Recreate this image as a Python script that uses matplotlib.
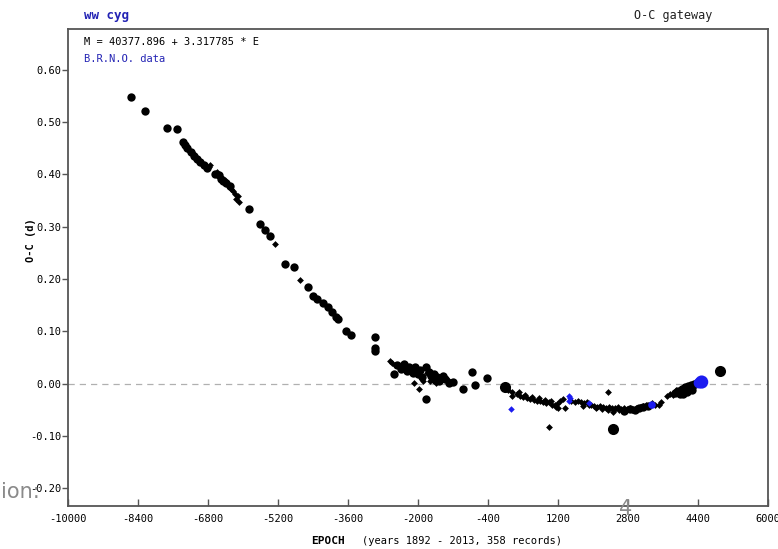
import matplotlib.pyplot as plt

# Colors
BLUE_TEXT = '#2323b4'
BLUE_MARK = '#1c1cf0'
SPINE = '#555555'
MONO = 'DejaVu Sans Mono'

# --- data (epoch, O-C in days) ---
big_x = [-8550, -8230, -7740, -7510,
         -7380, -7330, -7270, -7200, -7130, -7060, -6990, -6900, -6820,
         -6630, -6560, -6500, -6450, -6380, -6300,
         -5875, -5606, -5490, -5375, -5030, -4830,
         -4525, -4410, -4300, -4180, -4070, -3960, -3870, -3840,
         -3645, -3530, -2980, -2980, -2980,
         -2560, -2480, -2330, -2200, -2060, -1960, -1830, -1760, -1700,
         -1640, -1560, -1440, -1380, -1210, -1900, -2000, -1620, -1820,
         -2400, -2260, -2120, -1520, -1300,
         -985, -760, -705, -435,
         2700, 2850, 2950, 3050, 3150, 3250,
         3870, 3950, 4020, 4090, 4160, 4230, 4300, 4370, 4440, 3980, 4080, 4200,
         4050, 4140, 4260]
big_y = [0.548, 0.522, 0.489, 0.486,
         0.462, 0.456, 0.450, 0.443, 0.436, 0.430, 0.424, 0.417, 0.412,
         0.400, 0.398, 0.392, 0.388, 0.383, 0.378,
         0.334, 0.305, 0.293, 0.283, 0.229, 0.222,
         0.184, 0.168, 0.162, 0.155, 0.146, 0.137, 0.128, 0.124,
         0.101, 0.093, 0.089, 0.068, 0.062,
         0.019, 0.036, 0.038, 0.032, 0.031, 0.026, 0.032, 0.022, 0.015,
         0.018, 0.012, 0.014, 0.008, 0.004, 0.012, 0.018, 0.006, -0.029,
         0.028, 0.024, 0.020, 0.005, 0.002,
         -0.010, 0.023, -0.002, 0.011,
         -0.052, -0.048, -0.050, -0.047, -0.045, -0.043,
         -0.018, -0.014, -0.010, -0.007, -0.004, -0.003, 0.000, 0.001, 0.002, -0.020, -0.015, -0.009,
         -0.020, -0.016, -0.012]

heavy_x = [-10, 2460, 4890]
heavy_y = [-0.006, -0.086, 0.025]

small_x = [-7350, -7290, -7230, -7150, -7100, -7010, -6950, -6860, -6780, -6760,
           -6600, -6520, -6420, -6350, -6280, -6230, -6180, -6120, -6150, -6100,
           -5259, -4690,
           -2640, -2590, -2520, -2420, -2380, -2280, -2150, -2100, -1990, -1880,
           -1800, -1720, -1600, -1500, -1320, -1280,
           140, 60, 150, 250, 330, 400, 480, 560, 640, 720, 790, 860, 930, 1000,
           1060, 1120, 1180, 1240, 1300, 1350, 1200, 985,
           300, 450, 600, 760, 900, 1040, 1150,
           1500, 1580, 1650, 1720, 1800, 1870, 1950, 2020, 2090, 2150, 2220, 2290,
           2360, 2430, 2500, 2570, 2640, 2700, 2780, 2850, 2920, 2990, 3060, 3130,
           3200, 3270, 3340, 3420, 3500, 3560, 2330, 2460,
           1760, 1900, 2060, 2200, 2340, 2480, 2600, 2740, 2880, 3000,
           3690, 3760, 3820, 3900, 4060, 4130, 4260, 4340, 4500]
small_y = [0.458, 0.452, 0.445, 0.440, 0.432, 0.426, 0.421, 0.416, 0.414, 0.418,
           0.405, 0.395, 0.390, 0.380, 0.372, 0.368, 0.362, 0.358, 0.352, 0.348,
           0.267, 0.199,
           0.044, 0.040, 0.036, 0.032, 0.028, 0.030, 0.026, 0.002, -0.010, 0.005,
           0.020, 0.005, 0.002, 0.008, 0.006, 0.002,
           -0.023, -0.012, -0.016, -0.020, -0.024, -0.026, -0.027, -0.030, -0.031,
           -0.034, -0.033, -0.036, -0.038, -0.036,
           -0.040, -0.041, -0.039, -0.034, -0.030, -0.046, -0.046, -0.083,
           -0.016, -0.022, -0.025, -0.028, -0.031, -0.034, -0.044,
           -0.034, -0.036, -0.033, -0.036, -0.037, -0.035, -0.040, -0.042, -0.044,
           -0.043, -0.045, -0.046,
           -0.044, -0.046, -0.047, -0.045, -0.048, -0.046, -0.049, -0.047, -0.048,
           -0.046, -0.044, -0.043,
           -0.040, -0.042, -0.038, -0.041, -0.040, -0.036, -0.017, -0.055,
           -0.042, -0.040, -0.047, -0.049, -0.050, -0.051, -0.050, -0.052, -0.051, -0.050,
           -0.023, -0.020, -0.022, -0.012, -0.006, -0.012, -0.006, -0.003, 0.004]

brno_small_x = [130, 1450, 1460, 1450, 1900]
brno_small_y = [-0.048, -0.023, -0.028, -0.033, -0.038]
brno_big_x = [3345, 4420, 4480]
brno_big_y = [-0.041, 0.001, 0.003]
brno_big_s = [30, 60, 90]

x_ticks = [-10000, -8400, -6800, -5200, -3600, -2000, -400, 1200, 2800, 4400, 6000]
y_ticks = [-0.20, -0.10, 0.00, 0.10, 0.20, 0.30, 0.40, 0.50, 0.60]

fig = plt.figure(figsize=(7.78, 5.49), dpi=100)
fig.patch.set_facecolor('white')
ax = fig.add_axes([0.0874, 0.0783, 0.9, 0.869])

ax.axhline(0, color='#b0b0b0', linewidth=0.9, linestyle=(0, (5, 4)), zorder=1)

ax.scatter(small_x, small_y, marker='D', s=12, color='black', linewidths=0, zorder=3)
ax.scatter(big_x, big_y, marker='o', s=36, color='black', linewidths=0, zorder=3)
ax.scatter(heavy_x, heavy_y, marker='o', s=64, color='black', linewidths=0, zorder=3)
ax.scatter(brno_small_x, brno_small_y, marker='D', s=11, color=BLUE_MARK, linewidths=0, zorder=4)
ax.scatter(brno_big_x, brno_big_y, marker='o', s=brno_big_s, color=BLUE_MARK, linewidths=0, zorder=4)

ax.set_xlim(-10000, 6000)
ax.set_ylim(-0.234, 0.678)
ax.set_xticks(x_ticks)
ax.set_xticklabels([str(t) for t in x_ticks], family=MONO, fontsize=7.5)
ax.set_yticks(y_ticks)
ax.set_yticklabels([f'{t:.2f}' for t in y_ticks], family=MONO, fontsize=7.5)
ax.tick_params(axis='x', direction='in', length=5, width=1, color=SPINE, pad=6)
ax.tick_params(axis='y', direction='out', length=4, width=1, color=SPINE, pad=1)
for sp in ax.spines.values():
    sp.set_color(SPINE)
    sp.set_linewidth(1.3)

ax.text(0.023, 0.973, 'M = 40377.896 + 3.317785 * E', transform=ax.transAxes,
        family=MONO, fontsize=7.5, va='center', ha='left', color='black')
ax.text(0.023, 0.937, 'B.R.N.O. data', transform=ax.transAxes,
        family=MONO, fontsize=7.5, va='center', ha='left', color=BLUE_TEXT)

fig.text(0.108, 0.972, 'ww cyg', family=MONO, fontsize=9, fontweight='bold',
         color=BLUE_TEXT, va='center', ha='left')
fig.text(0.916, 0.972, 'O-C gateway', family=MONO, fontsize=8.5,
         color='#222222', va='center', ha='right')

fig.text(0.040, 0.563, 'O-C (d)', family=MONO, fontsize=7.5, fontweight='bold',
         rotation=90, va='center', ha='center')
fig.text(0.443, 0.015, 'EPOCH', family=MONO, fontsize=8, fontweight='bold',
         va='center', ha='right')
fig.text(0.465, 0.015, '(years 1892 - 2013, 358 records)', family=MONO, fontsize=7.5,
         va='center', ha='left')

# slide overlay fragments visible in the screenshot
fig.text(0.001, 0.103, 'ion:', fontsize=15, color='#8a8a8a', va='center', ha='left')
fig.text(0.804, 0.072, '4', fontsize=15, color='#8a8a8a', va='center', ha='center')

fig.savefig('out.png', dpi=100, facecolor='white')
